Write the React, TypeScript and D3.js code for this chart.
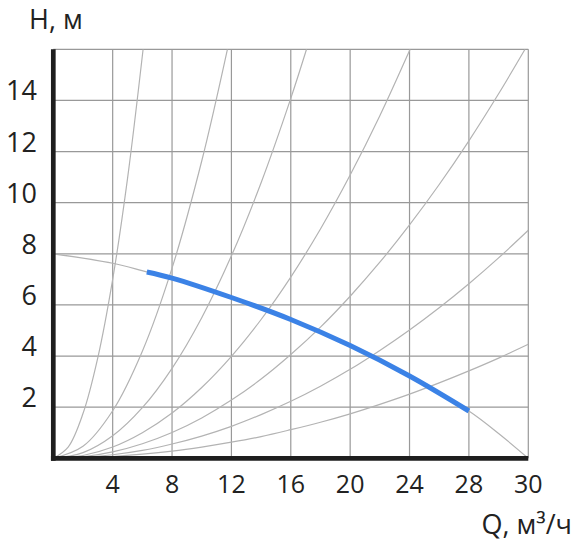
import React from "react";
import * as d3 from "d3";

// Q (m³/h) tick labels and H (m) ticks
const xTicks = [4, 8, 12, 16, 20, 24, 28, 30];
const yTicks = [2, 4, 6, 8, 10, 12, 14];
const yGrid = [2, 4, 6, 8, 10, 12, 14, 16];

// Pump curve [Q, H]
const pumpCurve: [number, number][] = [
  [0, 8], [4, 7.63], [6.3, 7.29], [8, 7.05], [12, 6.29], [16, 5.43],
  [20, 4.41], [24, 3.22], [28, 1.85], [29, 0.97], [30, 0],
];
const pumpWorkRange = [6.3, 28];

// System (resistance) curves [Q, H]
const sysA: [number, number][] = [[0, 0], [1, 0.44], [2, 1.75], [3, 3.94], [4, 7.0], [5, 10.94], [6.05, 16]];
const sysB: [number, number][] = [[0, 0], [2, 0.47], [4, 1.86], [6, 4.19], [8, 7.44], [10, 11.63], [11.73, 16]];
const sysC: [number, number][] = [[0, 0], [2, 0.22], [4, 0.88], [6, 1.98], [8, 3.52], [10, 5.5], [12, 7.92], [14, 10.78], [16, 14.08], [17.06, 16]];
const sysD: [number, number][] = [[0, 0], [2, 0.11], [4, 0.44], [6, 1.0], [8, 1.77], [10, 2.77], [12, 3.99], [14, 5.43], [16, 7.09], [18, 8.97], [20, 11.08], [22, 13.4], [24.04, 16]];
const sysE: [number, number][] = [[0, 0], [2, 0.06], [4, 0.25], [6, 0.57], [8, 1.01], [10, 1.58], [12, 2.28], [14, 3.1], [16, 4.06], [18, 5.13], [20, 6.34], [22, 7.67], [24, 9.13], [26, 10.71], [28, 12.42], [29, 14.26], [29.89, 16]];
const sysF: [number, number][] = [[0, 0], [2, 0.035], [4, 0.14], [6, 0.31], [8, 0.56], [10, 0.87], [12, 1.25], [14, 1.71], [16, 2.23], [18, 2.82], [20, 3.48], [22, 4.22], [24, 5.02], [26, 5.89], [28, 6.83], [29, 7.84], [30, 8.92]];
const sysG: [number, number][] = [[0, 0], [2, 0.017], [4, 0.07], [6, 0.16], [8, 0.28], [10, 0.44], [12, 0.63], [14, 0.85], [16, 1.12], [18, 1.41], [20, 1.74], [22, 2.11], [24, 2.51], [26, 2.95], [28, 3.42], [29, 3.92], [30, 4.46]];
const systemCurves = [sysA, sysB, sysC, sysD, sysE, sysF, sysG];

const W = 579;
const H = 543;
const FONT = "'Open Sans', 'Noto Sans', sans-serif";

export default function App() {
  const x = d3.scaleLinear().domain([0, 28, 30]).range([53.3, 468.9, 528.3]);
  const y = d3.scaleLinear().domain([0, 16]).range([458.3, 49.3]);

  const line = d3
    .line<[number, number]>()
    .x((d) => x(d[0]))
    .y((d) => y(d[1]))
    .curve(d3.curveCatmullRom);

  const blue = pumpCurve.filter((d) => d[0] >= pumpWorkRange[0] && d[0] <= pumpWorkRange[1]);

  const [x0, x1] = [x(0), x(30)];
  const [yb, yt] = [y(0), y(16)];

  return (
    <svg
      width={W}
      height={H}
      viewBox={`0 0 ${W} ${H}`}
      style={{ position: "absolute", left: 0, top: 0, display: "block", background: "#fff" }}
    >
      <defs>
        <clipPath id="plot">
          <rect x={x0} y={yt} width={x1 - x0} height={yb - yt} />
        </clipPath>
      </defs>
      {/* grid */}
      <g stroke="#999" strokeWidth={1.2} fill="none">
        {xTicks.map((t) => (
          <line key={"vx" + t} x1={x(t)} x2={x(t)} y1={yt} y2={yb} />
        ))}
        {yGrid.map((t) => (
          <line key={"hy" + t} x1={x0} x2={x1} y1={y(t)} y2={y(t)} />
        ))}
      </g>
      {/* system curves */}
      <g clipPath="url(#plot)" fill="none" stroke="#b3b3b3" strokeWidth={1.2}>
        {systemCurves.map((c, i) => (
          <path key={i} d={line(c) || ""} />
        ))}
        <path d={line(pumpCurve) || ""} />
      </g>
      {/* working range of pump curve */}
      <path d={line(blue) || ""} fill="none" stroke="#3b82e6" strokeWidth={5} />
      {/* axes */}
      <line x1={x0} x2={x0} y1={yt} y2={yb + 2.4} stroke="#1e1e1e" strokeWidth={4.7} />
      <line x1={x0 - 2.35} x2={x1} y1={yb} y2={yb} stroke="#1e1e1e" strokeWidth={4.7} />
      {/* tick labels */}
      <g fontFamily={FONT} fill="#222">
        {yTicks.map((t) => (
          <text key={"yl" + t} x={37} y={y(t)} textAnchor="end" fontSize={27}>
            {t}
          </text>
        ))}
        {xTicks.map((t) => (
          <text key={"xl" + t} x={x(t)} y={493} textAnchor="middle" fontSize={25}>
            {t}
          </text>
        ))}
        <text x={29} y={29} fontSize={27}>
          H, м
        </text>
        <text x={572} y={534} fontSize={27} textAnchor="end">
          Q, м³/ч
        </text>
      </g>
    </svg>
  );
}
